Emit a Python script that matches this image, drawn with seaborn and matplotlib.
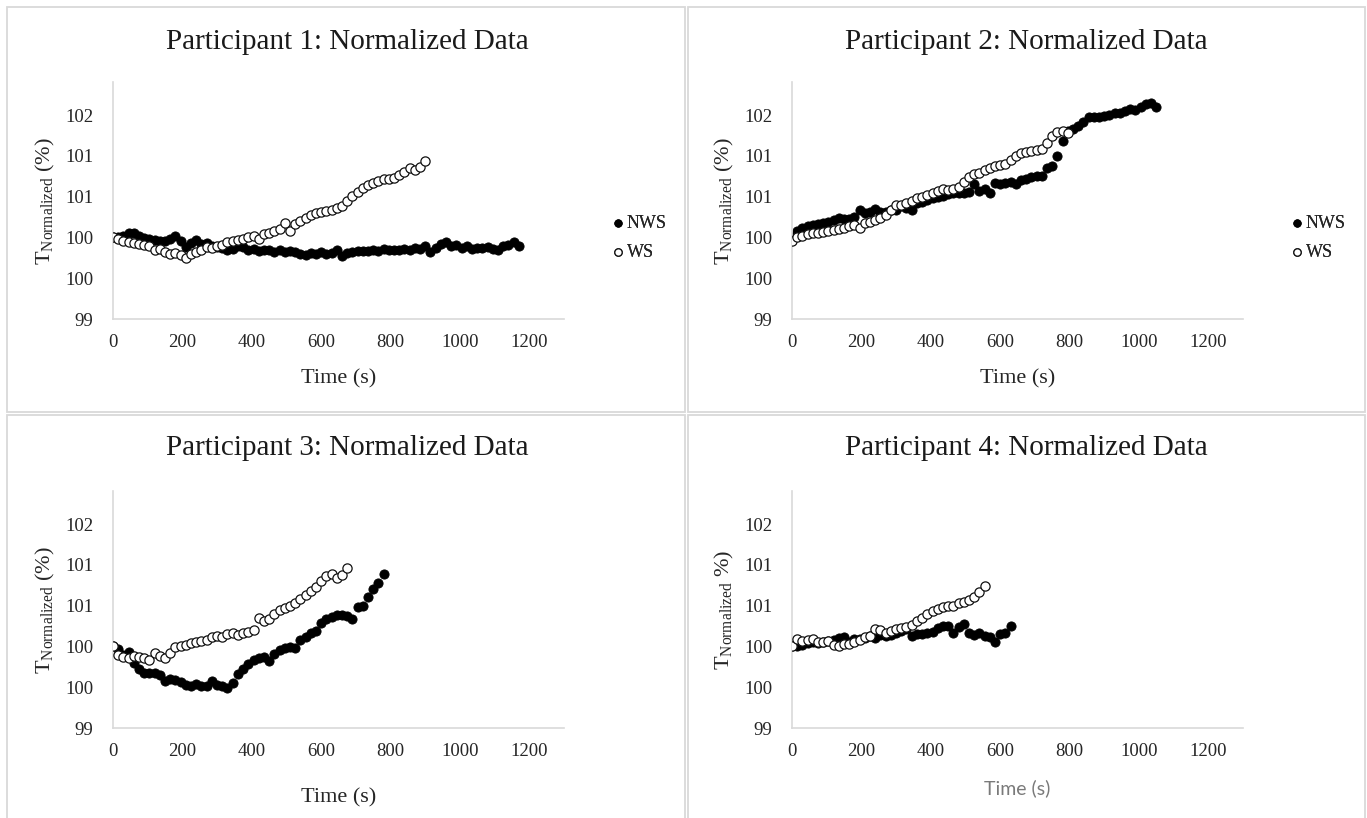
import numpy as np
import pandas as pd
import matplotlib
matplotlib.use('Agg')
import matplotlib.pyplot as plt
from matplotlib.patches import Rectangle
import seaborn as sns

# -------------------------------------------------------------
# DATA (normalized T, %, sampled every 15 s)
# -------------------------------------------------------------
step_s = 15

p1_nws = [100.00, 100.00, 100.02, 100.06, 100.05, 100.02, 99.99, 99.98, 99.97, 99.96,
          99.95, 99.98, 100.02, 99.95, 99.88, 99.93, 99.97, 99.92, 99.93, 99.90,
          99.88, 99.87, 99.84, 99.86, 99.90, 99.88, 99.85, 99.86, 99.83, 99.85,
          99.84, 99.82, 99.84, 99.82, 99.83, 99.82, 99.80, 99.79, 99.81, 99.80,
          99.82, 99.80, 99.81, 99.84, 99.77, 99.81, 99.82, 99.83, 99.83, 99.83,
          99.84, 99.83, 99.86, 99.84, 99.85, 99.85, 99.86, 99.84, 99.87, 99.86,
          99.89, 99.82, 99.87, 99.92, 99.94, 99.90, 99.91, 99.87, 99.90, 99.86,
          99.87, 99.87, 99.88, 99.86, 99.84, 99.89, 99.91, 99.94, 99.90]
p1_ws = [100.00, 99.98, 99.95, 99.94, 99.93, 99.92, 99.91, 99.89, 99.84, 99.86,
         99.82, 99.80, 99.81, 99.78, 99.75, 99.80, 99.82, 99.84, 99.88, 99.87,
         99.90, 99.91, 99.94, 99.95, 99.97, 99.98, 100.00, 100.02, 99.98, 100.04,
         100.06, 100.08, 100.10, 100.18, 100.08, 100.17, 100.20, 100.24, 100.27, 100.30,
         100.31, 100.32, 100.33, 100.36, 100.39, 100.44, 100.51, 100.56, 100.61, 100.64,
         100.67, 100.69, 100.72, 100.72, 100.73, 100.76, 100.80, 100.85, 100.82, 100.86,
         100.94]

p2_nws = [100.00, 100.08, 100.11, 100.14, 100.15, 100.16, 100.18, 100.19, 100.21, 100.24,
          100.23, 100.22, 100.25, 100.33, 100.30, 100.31, 100.35, 100.31, 100.31, 100.33,
          100.34, 100.39, 100.36, 100.33, 100.42, 100.43, 100.46, 100.48, 100.50, 100.51,
          100.53, 100.54, 100.55, 100.55, 100.56, 100.65, 100.57, 100.59, 100.55, 100.67,
          100.66, 100.67, 100.68, 100.65, 100.70, 100.72, 100.74, 100.75, 100.75, 100.85,
          100.88, 101.00, 101.18, 101.30, 101.33, 101.37, 101.42, 101.48, 101.48, 101.48,
          101.49, 101.50, 101.52, 101.53, 101.55, 101.57, 101.56, 101.60, 101.64, 101.65,
          101.60]
p2_ws = [99.95, 100.00, 100.02, 100.04, 100.05, 100.06, 100.07, 100.08, 100.09, 100.10,
         100.12, 100.14, 100.15, 100.12, 100.18, 100.19, 100.21, 100.24, 100.28, 100.33,
         100.40, 100.40, 100.42, 100.45, 100.48, 100.49, 100.52, 100.54, 100.57, 100.59,
         100.58, 100.59, 100.62, 100.68, 100.74, 100.78, 100.79, 100.82, 100.85, 100.88,
         100.89, 100.90, 100.95, 101.00, 101.03, 101.05, 101.06, 101.07, 101.08, 101.16,
         101.24, 101.29, 101.30, 101.28]

p3_nws = [100.00, 99.97, 99.90, 99.93, 99.80, 99.72, 99.67, 99.67, 99.67, 99.65,
          99.57, 99.60, 99.59, 99.56, 99.53, 99.52, 99.54, 99.52, 99.52, 99.57,
          99.53, 99.52, 99.49, 99.55, 99.66, 99.72, 99.78, 99.83, 99.86, 99.87,
          99.82, 99.91, 99.95, 99.98, 99.99, 99.98, 100.08, 100.12, 100.16, 100.19,
          100.29, 100.33, 100.36, 100.38, 100.38, 100.37, 100.33, 100.48, 100.50, 100.60,
          100.70, 100.78, 100.89]
p3_ws = [100.00, 99.90, 99.87, 99.86, 99.88, 99.87, 99.86, 99.83, 99.92, 99.88,
         99.86, 99.92, 99.99, 100.00, 100.02, 100.04, 100.06, 100.07, 100.08, 100.11,
         100.13, 100.12, 100.15, 100.16, 100.14, 100.17, 100.18, 100.20, 100.35, 100.31,
         100.33, 100.40, 100.45, 100.47, 100.50, 100.53, 100.58, 100.63, 100.68, 100.73,
         100.80, 100.86, 100.89, 100.84, 100.87, 100.96]

p4_nws = [100.00, 100.00, 100.02, 100.04, 100.06, 100.04, 100.05, 100.07, 100.08, 100.10,
          100.11, 100.05, 100.09, 100.09, 100.10, 100.13, 100.10, 100.14, 100.13, 100.14,
          100.16, 100.19, 100.21, 100.13, 100.15, 100.15, 100.16, 100.18, 100.23, 100.25,
          100.25, 100.16, 100.24, 100.27, 100.17, 100.14, 100.16, 100.13, 100.11, 100.06,
          100.15, 100.17, 100.25]
p4_ws = [100.00, 100.09, 100.07, 100.08, 100.09, 100.06, 100.05, 100.07, 100.02, 100.01,
         100.03, 100.03, 100.05, 100.08, 100.11, 100.13, 100.21, 100.20, 100.17, 100.19,
         100.21, 100.23, 100.24, 100.26, 100.31, 100.35, 100.40, 100.43, 100.46, 100.48,
         100.49, 100.49, 100.53, 100.55, 100.57, 100.60, 100.67, 100.74]

titles = ['Participant 1: Normalized Data', 'Participant 2: Normalized Data',
          'Participant 3: Normalized Data', 'Participant 4: Normalized Data']
series = [(p1_nws, p1_ws), (p2_nws, p2_ws), (p3_nws, p3_ws), (p4_nws, p4_ws)]

y_ticks = [99, 99.5, 100, 100.5, 101, 101.5]
y_tick_labels = ['99', '100', '100', '101', '101', '102']
x_ticks = [0, 200, 400, 600, 800, 1000, 1200]

# -------------------------------------------------------------
# VISUAL CONFIG
# -------------------------------------------------------------
sns.set_style('white')
plt.rcParams['font.family'] = ['Liberation Serif', 'DejaVu Serif']
plt.rcParams['mathtext.fontset'] = 'custom'
plt.rcParams['mathtext.rm'] = 'Liberation Serif'
plt.rcParams['mathtext.it'] = 'Liberation Serif:italic'

W, H = 1367, 818
fig = plt.figure(figsize=(W / 100, H / 100), dpi=100)
fig.patch.set_facecolor('white')

# panel frames
border = '#d9d9d9'
for (x0, y0, x1, y1) in [(7, 7, 685, 412), (688, 7, 1365, 412),
                         (7, 415, 685, 830), (688, 415, 1365, 830)]:
    fig.patches.append(Rectangle((x0 / W, 1 - y1 / H), (x1 - x0) / W, (y1 - y0) / H,
                                 transform=fig.transFigure, fill=False,
                                 edgecolor=border, linewidth=1.3))

# axes geometry in pixels: (left, x-axis y)
ax_pos = [(113, 319), (792, 319), (113, 728), (792, 728)]
title_pos = [(347, 42), (1026, 42), (347, 448), (1026, 448)]
ax_w = 451
ax_h = 2.9 * 81.6

for i, ((left, base), (nws, ws)) in enumerate(zip(ax_pos, series)):
    ax = fig.add_axes([left / W, 1 - base / H, ax_w / W, ax_h / H])
    t_nws = np.arange(len(nws)) * step_s
    t_ws = np.arange(len(ws)) * step_s

    sns.scatterplot(x=t_nws, y=nws, ax=ax, color='black', edgecolor='black',
                    linewidth=0.6, s=44, label='NWS', zorder=2)
    sns.scatterplot(x=t_ws, y=ws, ax=ax, color='white', edgecolor='#111111',
                    linewidth=0.9, s=44, label='WS', zorder=3)

    ax.set_xlim(0, 1300)
    ax.set_ylim(99, 101.9)
    ax.set_xticks(x_ticks)
    ax.set_xticklabels([str(x) for x in x_ticks])
    ax.set_yticks(y_ticks)
    ax.set_yticklabels(y_tick_labels)
    ax.tick_params(axis='both', length=0, labelsize=13.5, colors='#262626')
    ax.tick_params(axis='y', pad=14)
    ax.tick_params(axis='x', pad=11)

    for side in ['top', 'right']:
        ax.spines[side].set_visible(False)
    for side in ['left', 'bottom']:
        ax.spines[side].set_color(border)
        ax.spines[side].set_linewidth(1.2)

    if i == 3:
        ax.set_xlabel('Time (s)', fontsize=14, color='#7a7a7a',
                      family=['Lato', 'DejaVu Sans'])
        ax.xaxis.set_label_coords(0.5, -0.215)
        ax.set_ylabel(r'T$_{\mathrm{Normalized}}$ %)', fontsize=16, color='#262626')
    else:
        ax.set_xlabel('Time (s)', fontsize=16, color='#262626')
        ax.xaxis.set_label_coords(0.5, -0.211 if i < 2 else -0.254)
        ax.set_ylabel(r'T$_{\mathrm{Normalized}}$ (%)', fontsize=16, color='#262626')
    ax.yaxis.set_label_coords(-0.124, 0.5)

    ax.legend(loc='center left', bbox_to_anchor=(1.1075, (base - 238) / ax_h),
              frameon=False, fontsize=13, borderpad=0, borderaxespad=0,
              handlelength=0.6, handletextpad=0.2, labelspacing=0.65,
              markerscale=0.8, labelcolor='#262626')

    tx, ty = title_pos[i]
    fig.text(tx / W, 1 - ty / H, titles[i], ha='center', va='center',
             fontsize=21, color='#1a1a1a')

plt.savefig('out.png', dpi=100, facecolor='white')
